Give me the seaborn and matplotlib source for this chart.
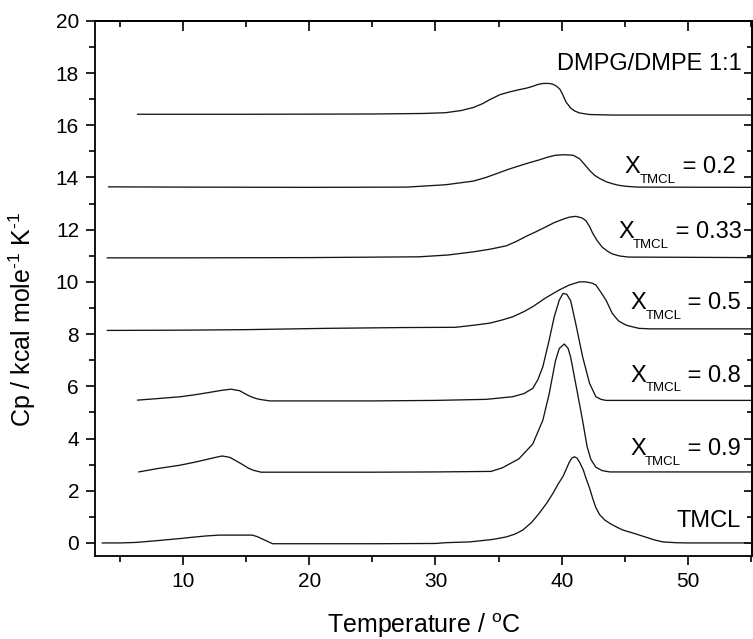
import matplotlib
matplotlib.use("Agg")
import matplotlib.pyplot as plt
from matplotlib import transforms
from matplotlib.ticker import MultipleLocator
import numpy as np
import pandas as pd
import seaborn as sns

# ---------------------------------------------------------------------------
# DSC thermograms (stacked, offset vertically)
# ---------------------------------------------------------------------------
temp_tmcl = [3.6, 5.0, 6.3, 8.0, 9.8, 11.0, 11.9, 12.9, 14.0, 15.5, 15.9, 16.2,
             16.7, 17.1, 20.0, 25.0, 30.0, 30.8, 32.7, 33.5, 34.6, 35.6, 36.3,
             36.9, 37.6, 38.2, 38.8, 39.3, 39.7, 40.1, 40.6, 40.8, 41.0, 41.2,
             41.4, 41.7, 41.9, 42.2, 42.45, 42.7, 43.0, 43.4, 43.8, 44.3, 44.8,
             45.7, 46.6, 47.3, 48.0, 49.0, 50.0, 55.0]
cp_tmcl = [0.00, 0.00, 0.02, 0.09, 0.17, 0.23, 0.27, 0.30, 0.30, 0.30, 0.24, 0.17,
           0.06, -0.03, -0.03, -0.03, -0.02, 0.01, 0.04, 0.08, 0.14, 0.23, 0.34,
           0.49, 0.78, 1.13, 1.52, 1.90, 2.25, 2.55, 3.10, 3.25, 3.30, 3.25,
           3.10, 2.80, 2.50, 2.10, 1.70, 1.35, 1.08, 0.88, 0.75, 0.62, 0.50,
           0.37, 0.23, 0.12, 0.04, 0.01, 0.00, 0.00]

temp_x09 = [6.5, 8.0, 9.8, 11.0, 11.9, 12.7, 13.1, 13.7, 14.2, 14.8, 15.2, 15.6,
            16.2, 20.0, 25.0, 30.0, 34.4, 35.3, 36.6, 37.7, 38.5, 39.0, 39.5,
            39.8, 40.2, 40.5, 40.7, 41.1, 41.5, 41.65, 42.0, 42.3, 42.7, 43.2,
            43.8, 55.0]
cp_x09 = [2.72, 2.85, 2.98, 3.10, 3.20, 3.29, 3.33, 3.28, 3.15, 2.98, 2.86, 2.78,
          2.71, 2.71, 2.71, 2.72, 2.74, 2.88, 3.22, 3.79, 4.70, 5.71, 6.98,
          7.45, 7.62, 7.45, 7.12, 6.10, 5.07, 4.68, 3.70, 3.20, 2.90, 2.77,
          2.72, 2.72]

temp_x08 = [6.4, 8.0, 9.8, 11.0, 11.9, 13.0, 13.8, 14.5, 14.9, 15.3, 15.8, 16.2,
            16.9, 20.0, 25.0, 30.0, 34.0, 36.1, 37.0, 37.7, 38.1, 38.5, 39.0,
            39.4, 39.8, 40.1, 40.4, 40.7, 41.1, 41.65, 42.2, 42.7, 43.1, 43.5,
            55.0]
cp_x08 = [5.47, 5.53, 5.60, 5.68, 5.75, 5.84, 5.89, 5.83, 5.72, 5.62, 5.53, 5.49,
          5.44, 5.44, 5.44, 5.46, 5.50, 5.60, 5.72, 5.92, 6.25, 6.75, 7.77,
          8.66, 9.30, 9.56, 9.52, 9.28, 8.41, 7.13, 6.11, 5.60, 5.50, 5.46,
          5.46]

temp_x05 = [4.0, 10.0, 15.0, 21.4, 27.4, 31.6, 33.2, 34.3, 35.2, 36.1, 37.0,
            37.7, 38.7, 39.8, 40.6, 41.4, 41.9, 42.4, 42.7, 43.1, 43.5, 44.0,
            44.5, 45.1, 46.1, 47.0, 55.0]
cp_x05 = [8.14, 8.15, 8.17, 8.22, 8.25, 8.26, 8.35, 8.42, 8.53, 8.66, 8.86,
          9.05, 9.38, 9.69, 9.88, 10.00, 10.00, 9.95, 9.88, 9.60, 9.30, 8.79,
          8.50, 8.34, 8.22, 8.20, 8.20]

temp_x033 = [4.0, 10.0, 20.0, 28.7, 31.0, 33.0, 34.3, 35.6, 36.4, 37.2, 38.0,
             38.75, 39.4, 40.1, 40.6, 41.1, 41.6, 41.9, 42.2, 42.45, 42.8, 43.2,
             43.6, 44.0, 44.6, 45.3, 55.0]
cp_x033 = [10.92, 10.92, 10.93, 10.96, 11.03, 11.15, 11.25, 11.38, 11.55, 11.75,
           11.93, 12.11, 12.27, 12.40, 12.48, 12.51, 12.45, 12.35, 12.12, 11.86,
           11.58, 11.33, 11.18, 11.07, 10.99, 10.95, 10.93]

temp_x02 = [4.1, 10.0, 20.0, 27.7, 30.8, 33.0, 34.0, 34.8, 35.7, 36.6, 37.4,
            38.2, 38.9, 39.5, 40.2, 40.9, 41.4, 41.8, 42.2, 42.6, 43.0, 43.5,
            44.0, 44.5, 45.1, 46.0, 55.0]
cp_x02 = [13.64, 13.63, 13.62, 13.63, 13.72, 13.86, 14.00, 14.14, 14.30, 14.44,
          14.56, 14.67, 14.78, 14.85, 14.87, 14.85, 14.72, 14.50, 14.27, 14.08,
          13.96, 13.84, 13.76, 13.70, 13.66, 13.63, 13.62]

temp_dmpg = [6.4, 15.0, 25.0, 29.0, 30.8, 32.0, 33.0, 33.7, 34.3, 35.1, 35.9,
             36.6, 37.2, 37.7, 38.1, 38.5, 39.0, 39.3, 39.6, 39.85, 40.05, 40.2,
             40.35, 40.7, 41.0, 41.4, 42.2, 44.0, 55.0]
cp_dmpg = [16.42, 16.42, 16.43, 16.45, 16.48, 16.56, 16.68, 16.82, 16.98, 17.17,
           17.28, 17.36, 17.42, 17.49, 17.56, 17.60, 17.60, 17.57, 17.49, 17.38,
           17.20, 17.03, 16.88, 16.66, 16.55, 16.47, 16.41, 16.39, 16.39]

curves = [
    ("TMCL", temp_tmcl, cp_tmcl),
    ("0.9", temp_x09, cp_x09),
    ("0.8", temp_x08, cp_x08),
    ("0.5", temp_x05, cp_x05),
    ("0.33", temp_x033, cp_x033),
    ("0.2", temp_x02, cp_x02),
    ("DMPG/DMPE 1:1", temp_dmpg, cp_dmpg),
]

# label text and anchor (right end, baseline) for each trace
label_names = ["TMCL", "0.9", "0.8", "0.5", "0.33", "0.2", "DMPG/DMPE 1:1"]
label_x = [54.2, 54.15, 54.2, 54.2, 54.25, 53.75, 54.25]
label_y = [0.62, 3.36, 6.17, 8.95, 11.67, 14.16, 18.11]

x_limits = (3.04, 55.06)
y_limits = (-0.5, 20.0)

# ---------------------------------------------------------------------------
sns.set_style("ticks")
plt.rcParams["font.family"] = ["Liberation Sans", "DejaVu Sans"]
plt.rcParams["mathtext.fontset"] = "custom"
plt.rcParams["mathtext.rm"] = "Liberation Sans"
plt.rcParams["mathtext.it"] = "Liberation Sans:italic"
plt.rcParams["mathtext.bf"] = "Liberation Sans:bold"
for key in ["text.color", "axes.labelcolor", "xtick.color", "ytick.color",
            "axes.edgecolor"]:
    plt.rcParams[key] = "black"

fig = plt.figure(figsize=(7.53, 6.39), dpi=100)
ax = fig.add_axes([95 / 753, 1 - 556 / 639, 657 / 753, 535.2 / 639])

for name, t, cp in curves:
    df = pd.DataFrame({"T": t, "Cp": cp})
    sns.lineplot(data=df, x="T", y="Cp", ax=ax, sort=False, estimator=None,
                 color="#151515", linewidth=0.95)

ax.set_xlim(*x_limits)
ax.set_ylim(*y_limits)

# axis frame and ticks
for side in ["left", "bottom", "top", "right"]:
    ax.spines[side].set_visible(True)
    ax.spines[side].set_linewidth(1.3)
    ax.spines[side].set_color("black")

ax.xaxis.set_major_locator(MultipleLocator(10))
ax.xaxis.set_minor_locator(MultipleLocator(5))
ax.yaxis.set_major_locator(MultipleLocator(2))
ax.yaxis.set_minor_locator(MultipleLocator(1))
ax.tick_params(which="major", direction="out", length=6.5, width=1.2,
               labelsize=15, pad=5, colors="black")
ax.tick_params(which="minor", direction="out", length=4, width=1.2,
               colors="black")

top = ax.secondary_xaxis("top")
top.xaxis.set_major_locator(MultipleLocator(10))
top.xaxis.set_minor_locator(MultipleLocator(5))
top.tick_params(which="major", direction="in", length=7, width=1.2,
                labeltop=False, colors="black")
top.tick_params(which="minor", direction="in", length=4.3, width=1.2,
                colors="black")
top.spines["top"].set_linewidth(1.3)
top.spines["top"].set_color("black")

right = ax.secondary_yaxis("right")
right.yaxis.set_major_locator(MultipleLocator(2))
right.yaxis.set_minor_locator(MultipleLocator(1))
right.tick_params(which="major", direction="in", length=6, width=1.2,
                  labelright=False, colors="black")
right.tick_params(which="minor", direction="in", length=3.8, width=1.2,
                  colors="black")
right.spines["right"].set_linewidth(1.3)
right.spines["right"].set_color("black")

ax.set_xlabel(r"Temperature / $^{\mathrm{o}}$C", fontsize=18, color="black")
ax.set_ylabel("Cp / kcal mole$^{\u2010\\mathrm{1}}$ K$^{\u2010\\mathrm{1}}$",
              fontsize=18, color="black")
ax.xaxis.set_label_coords(0.5, -0.104)
ax.yaxis.set_label_coords(-0.086, 0.443)

# trace labels: "X" with a small "TMCL" subscript, right-aligned
fig.canvas.draw()
renderer = fig.canvas.get_renderer()
MAIN, SUB, DROP = 17, 9.5, 9.5

for name, lx, ly in zip(label_names, label_x, label_y):
    if name in ("TMCL", "DMPG/DMPE 1:1"):
        ax.text(lx, ly, name, ha="right", va="baseline", fontsize=MAIN,
                color="black")
        continue
    tail = ax.text(lx, ly, f" = {name}", ha="right", va="baseline",
                   fontsize=MAIN, color="black")
    w_tail = tail.get_window_extent(renderer).width
    sub = ax.text(lx, ly, "TMCL", ha="right", va="baseline", fontsize=SUB,
                  color="black",
                  transform=transforms.offset_copy(ax.transData, x=-w_tail,
                                                   y=-DROP, units="dots"))
    w_sub = sub.get_window_extent(renderer).width
    ax.text(lx, ly, "X", ha="right", va="baseline", fontsize=MAIN,
            color="black",
            transform=transforms.offset_copy(ax.transData, x=-(w_tail + w_sub - 1),
                                             y=0, units="dots"))

fig.savefig("out.png", dpi=100)
